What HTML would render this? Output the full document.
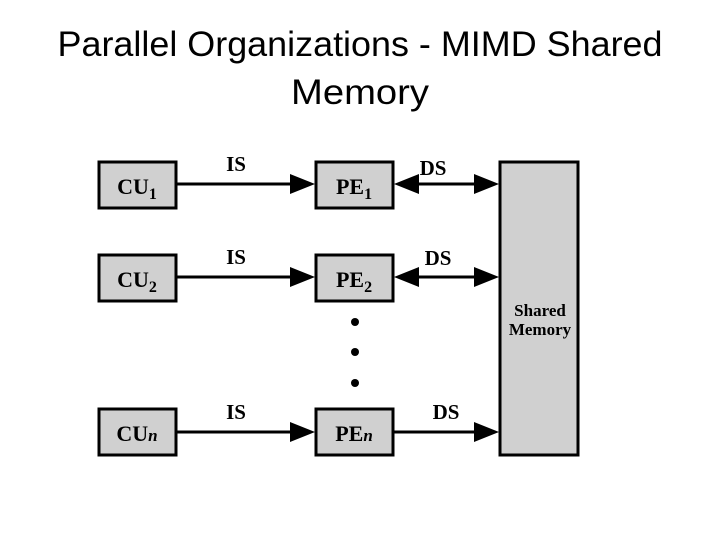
<!DOCTYPE html>
<html><head><meta charset="utf-8"><style>
html,body{margin:0;padding:0;background:#fff;}
svg{display:block;}
</style></head><body>
<svg width="720" height="540" viewBox="0 0 720 540" xmlns="http://www.w3.org/2000/svg">
<g font-family="Liberation Sans, sans-serif" font-size="35" fill="#000" text-anchor="middle">
<text x="360" y="56" textLength="605" lengthAdjust="spacingAndGlyphs">Parallel Organizations - MIMD Shared</text>
<text x="360" y="104" textLength="138" lengthAdjust="spacingAndGlyphs">Memory</text>
</g>
<g stroke="#000" stroke-width="3" fill="#d0d0d0">
<rect x="99" y="162" width="77" height="46"/>
<rect x="316" y="162" width="77" height="46"/>
<rect x="99" y="255" width="77" height="46"/>
<rect x="316" y="255" width="77" height="46"/>
<rect x="99" y="409" width="77" height="46"/>
<rect x="316" y="409" width="77" height="46"/>
<rect x="500" y="162" width="78" height="293"/>
</g>
<g stroke="#000" stroke-width="3">
<line x1="177" y1="184" x2="296" y2="184"/>
<line x1="177" y1="277" x2="296" y2="277"/>
<line x1="177" y1="432" x2="296" y2="432"/>
<line x1="410" y1="184" x2="482" y2="184"/>
<line x1="410" y1="277" x2="482" y2="277"/>
<line x1="393" y1="432" x2="482" y2="432"/>
</g>
<g fill="#000">
<polygon points="290,174 315,184 290,194"/>
<polygon points="290,267 315,277 290,287"/>
<polygon points="290,422 315,432 290,442"/>
<polygon points="419,174 394,184 419,194"/>
<polygon points="419,267 394,277 419,287"/>
<polygon points="474,174 499,184 474,194"/>
<polygon points="474,267 499,277 474,287"/>
<polygon points="474,422 499,432 474,442"/>
<circle cx="355" cy="322" r="4"/>
<circle cx="355" cy="352" r="4"/>
<circle cx="355" cy="383" r="4"/>
</g>
<g font-family="Liberation Serif, serif" font-weight="bold" fill="#000" text-anchor="middle">
<text x="137" y="194" font-size="22">CU<tspan font-size="16" dy="5">1</tspan></text>
<text x="354" y="194" font-size="22">PE<tspan font-size="16" dy="5">1</tspan></text>
<text x="137" y="287" font-size="22">CU<tspan font-size="16" dy="5">2</tspan></text>
<text x="354" y="287" font-size="22">PE<tspan font-size="16" dy="5">2</tspan></text>
<text x="137" y="441" font-size="22">CU<tspan font-size="17" font-style="italic">n</tspan></text>
<text x="354" y="441" font-size="22">PE<tspan font-size="17" font-style="italic">n</tspan></text>
<text x="236" y="171" font-size="21">IS</text>
<text x="236" y="264" font-size="21">IS</text>
<text x="236" y="419" font-size="21">IS</text>
<text x="433" y="175" font-size="21">DS</text>
<text x="438" y="265" font-size="21">DS</text>
<text x="446" y="419" font-size="21">DS</text>
<text x="540" y="316" font-size="17">Shared</text>
<text x="540" y="335" font-size="17">Memory</text>
</g>
</svg>
</body></html>
